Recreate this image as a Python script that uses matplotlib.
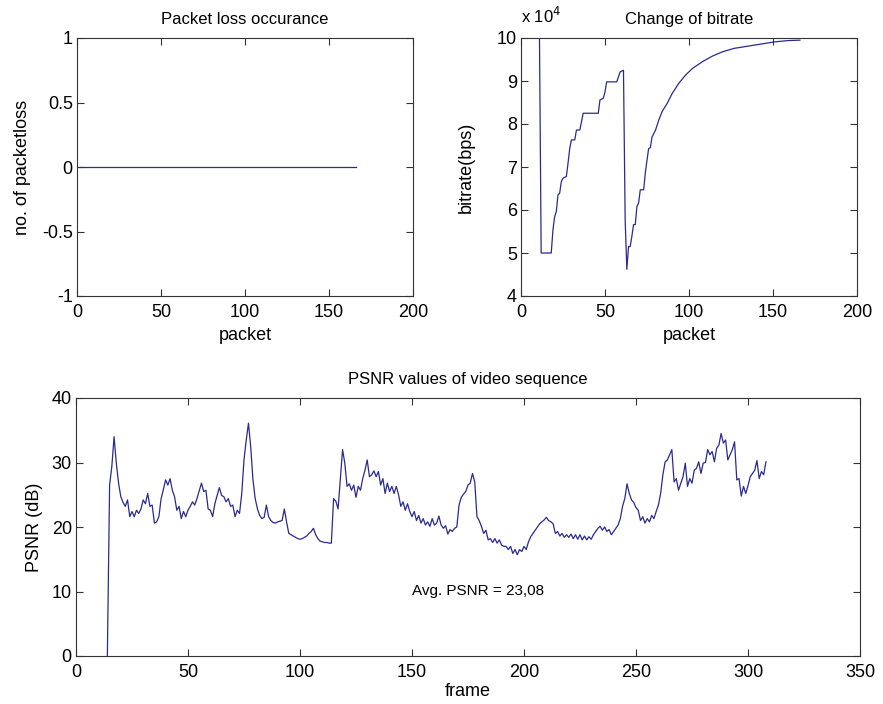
import matplotlib
matplotlib.use("Agg")
import matplotlib.pyplot as plt
import numpy as np

plt.rcParams['font.family'] = ['Liberation Sans', 'DejaVu Sans']

# ---------------- data ----------------
packets = np.arange(1, 167)
packet_loss = np.zeros(len(packets))

bitrate_packet = [1, 11, 12, 18, 19, 20, 21, 22, 23, 24, 25, 27, 28, 29, 30, 32, 33, 35, 36, 37,
                  46, 47, 49, 50, 51, 57, 59, 61, 62, 63, 64, 65, 66, 67, 68, 69, 70, 71, 73, 74,
                  75, 76, 77, 78, 80, 82, 84, 87, 90, 94, 98, 102, 108, 114, 120, 127, 135, 143,
                  151, 159, 166]
bitrate_bps = [100000, 100000, 50000, 50000, 55300, 58400, 59600, 63500, 63900, 66600, 67400,
               67800, 70900, 74300, 76300, 76300, 78600, 78600, 80500, 82500, 82500, 85600,
               86000, 87500, 89800, 89800, 92100, 92500, 57700, 46200, 51500, 51500, 53900,
               56600, 56600, 60800, 61600, 64700, 64700, 68600, 71600, 74300, 74500, 77000,
               78500, 80900, 82900, 84800, 87100, 89500, 91400, 92900, 94500, 95800, 96800,
               97600, 98100, 98600, 99100, 99400, 99500]

psnr_start_frame = 14
psnr_db = [
    0.0,
    26.5, 29.4, 34.0, 29.9, 26.8, 24.7, 23.8, 23.2, 24.2, 21.6,
    22.4, 21.6, 22.6, 22.1, 22.8, 24.2, 23.6, 25.2, 23.2, 23.4,
    20.6, 20.8, 21.6, 24.4, 25.8, 27.3, 26.5, 27.5, 25.7, 24.7,
    22.6, 23.2, 21.3, 22.4, 21.6, 22.6, 23.2, 23.9, 23.4, 24.4,
    25.6, 26.8, 25.5, 25.7, 22.8, 22.6, 21.6, 23.6, 24.9, 26.1,
    24.9, 24.7, 23.9, 24.4, 23.2, 23.4, 21.6,
    # 72..131
    22.6, 22.1, 25.2, 30.4, 33.5, 36.1, 32.4, 27.3, 24.4, 22.8,
    21.8, 21.3, 21.5, 23.4, 21.6, 21.0, 20.7, 20.6, 20.8, 20.9,
    21.0, 22.8, 20.8, 19.0, 18.8, 18.6, 18.4, 18.2, 18.1, 18.2,
    18.4, 18.6, 19.0, 19.3, 19.8, 18.8, 18.2, 17.8, 17.7, 17.6,
    17.6, 17.5, 17.5, 24.4, 24.0, 22.8, 27.3, 32.0, 29.9, 26.3,
    26.7, 25.7, 26.5, 24.6, 26.3, 25.7, 27.5, 28.8, 30.4, 27.8,
    # 132..191
    28.1, 28.7, 27.8, 28.6, 26.5, 27.5, 25.2, 26.8, 25.5, 26.3,
    25.2, 26.3, 25.0, 23.2, 23.9, 22.6, 23.6, 22.4, 21.6, 22.4,
    21.0, 21.8, 20.6, 21.3, 20.3, 20.8, 20.1, 21.3, 20.3, 20.6,
    21.7, 20.3, 19.8, 20.2, 18.9, 19.6, 19.3, 19.8, 20.0, 23.4,
    24.6, 25.1, 25.5, 26.5, 26.8, 28.3, 27.0, 21.6, 21.0, 20.1,
    19.0, 19.5, 18.0, 18.2, 17.6, 18.2, 17.5, 18.0, 17.2, 17.0,
    # 192..251
    17.0, 16.5, 17.0, 15.9, 16.5, 15.7, 16.5, 16.2, 17.0, 16.5,
    17.7, 18.5, 19.0, 19.5, 20.0, 20.5, 20.8, 21.1, 21.5, 21.0,
    20.8, 20.5, 19.0, 19.3, 18.6, 19.0, 18.4, 18.8, 18.4, 18.9,
    18.2, 18.8, 18.1, 18.8, 18.0, 18.6, 18.0, 18.5, 18.1, 18.8,
    19.3, 19.8, 20.1, 19.5, 20.0, 19.3, 19.6, 18.8, 19.3, 19.8,
    20.3, 21.3, 23.2, 24.4, 26.7, 25.2, 24.2, 23.8, 23.0, 22.6,
    # 252..308
    21.0, 21.6, 20.6, 21.3, 20.8, 21.8, 21.3, 22.4, 23.4, 25.2,
    28.1, 30.1, 30.4, 31.2, 32.0, 27.0, 27.5, 25.7, 26.8, 27.8,
    29.9, 26.3, 27.5, 26.8, 28.8, 29.1, 30.1, 28.3, 29.9, 30.0,
    32.0, 31.2, 31.7, 30.1, 32.2, 32.7, 34.5, 33.0, 33.5, 30.4,
    31.2, 32.0, 33.2, 27.3, 27.5, 24.8, 26.3, 25.2, 26.4, 27.8,
    28.3, 28.8, 30.3, 27.5, 28.6, 28.1, 30.1,
]
frames = np.arange(psnr_start_frame, psnr_start_frame + len(psnr_db))
avg_text = "Avg. PSNR = 23,08"

# ---------------- styling ----------------
LINE = '#2a2a90'
W, H = 883, 704
TICK_FS = 13
LABEL_FS = 13
TITLE_FS = 12
fig = plt.figure(figsize=(W / 100, H / 100), dpi=100)

def style(ax):
    ax.tick_params(direction='in', top=True, right=True, length=5, width=0.8,
                   labelsize=TICK_FS, color='#333333')
    ax.tick_params(axis='x', pad=6)
    ax.tick_params(axis='y', pad=3)
    for s in ax.spines.values():
        s.set_linewidth(0.8)
        s.set_color('#333333')

ax1 = fig.add_axes([77 / W, 1 - 296 / H, 336 / W, 258 / H])
ax2 = fig.add_axes([521 / W, 1 - 296 / H, 336 / W, 258 / H])
ax3 = fig.add_axes([76 / W, 1 - 656 / H, 784 / W, 258 / H])

# packet loss
ax1.plot(packets, packet_loss, color=LINE, lw=0.9)
ax1.set_xlim(0, 200)
ax1.set_ylim(-1, 1)
ax1.set_xticks([0, 50, 100, 150, 200])
ax1.set_yticks([-1, -0.5, 0, 0.5, 1])
ax1.set_yticklabels(['-1', '-0.5', '0', '0.5', '1'])
ax1.set_title('Packet loss occurance', fontsize=TITLE_FS, pad=10)
ax1.set_xlabel('packet', fontsize=LABEL_FS, labelpad=4)
ax1.set_ylabel('no. of packetloss', fontsize=LABEL_FS, labelpad=8)
style(ax1)

# bitrate
ax2.plot(bitrate_packet, np.array(bitrate_bps) / 1e4, color=LINE, lw=0.9)
ax2.set_xlim(0, 200)
ax2.set_ylim(4, 10)
ax2.set_xticks([0, 50, 100, 150, 200])
ax2.set_yticks([4, 5, 6, 7, 8, 9, 10])
ax2.set_title('Change of bitrate', fontsize=TITLE_FS, pad=10)
ax2.set_xlabel('packet', fontsize=LABEL_FS, labelpad=4)
ax2.set_ylabel('bitrate(bps)', fontsize=LABEL_FS, labelpad=16)
ax2.text(0.0, 1.045, r'x 10$^4$', transform=ax2.transAxes, fontsize=12,
         ha='left', va='bottom')
style(ax2)

# PSNR
ax3.plot(frames, psnr_db, color=LINE, lw=0.9)
ax3.set_xlim(0, 350)
ax3.set_ylim(0, 40)
ax3.set_xticks([0, 50, 100, 150, 200, 250, 300, 350])
ax3.set_yticks([0, 10, 20, 30, 40])
ax3.set_title('PSNR values of video sequence', fontsize=TITLE_FS, pad=10)
ax3.set_xlabel('frame', fontsize=LABEL_FS, labelpad=1)
ax3.set_ylabel('PSNR (dB)', fontsize=LABEL_FS, labelpad=6)
ax3.text(150, 10, avg_text, fontsize=11, ha='left', va='center')
style(ax3)

fig.savefig('out.png', dpi=100, facecolor='white')
